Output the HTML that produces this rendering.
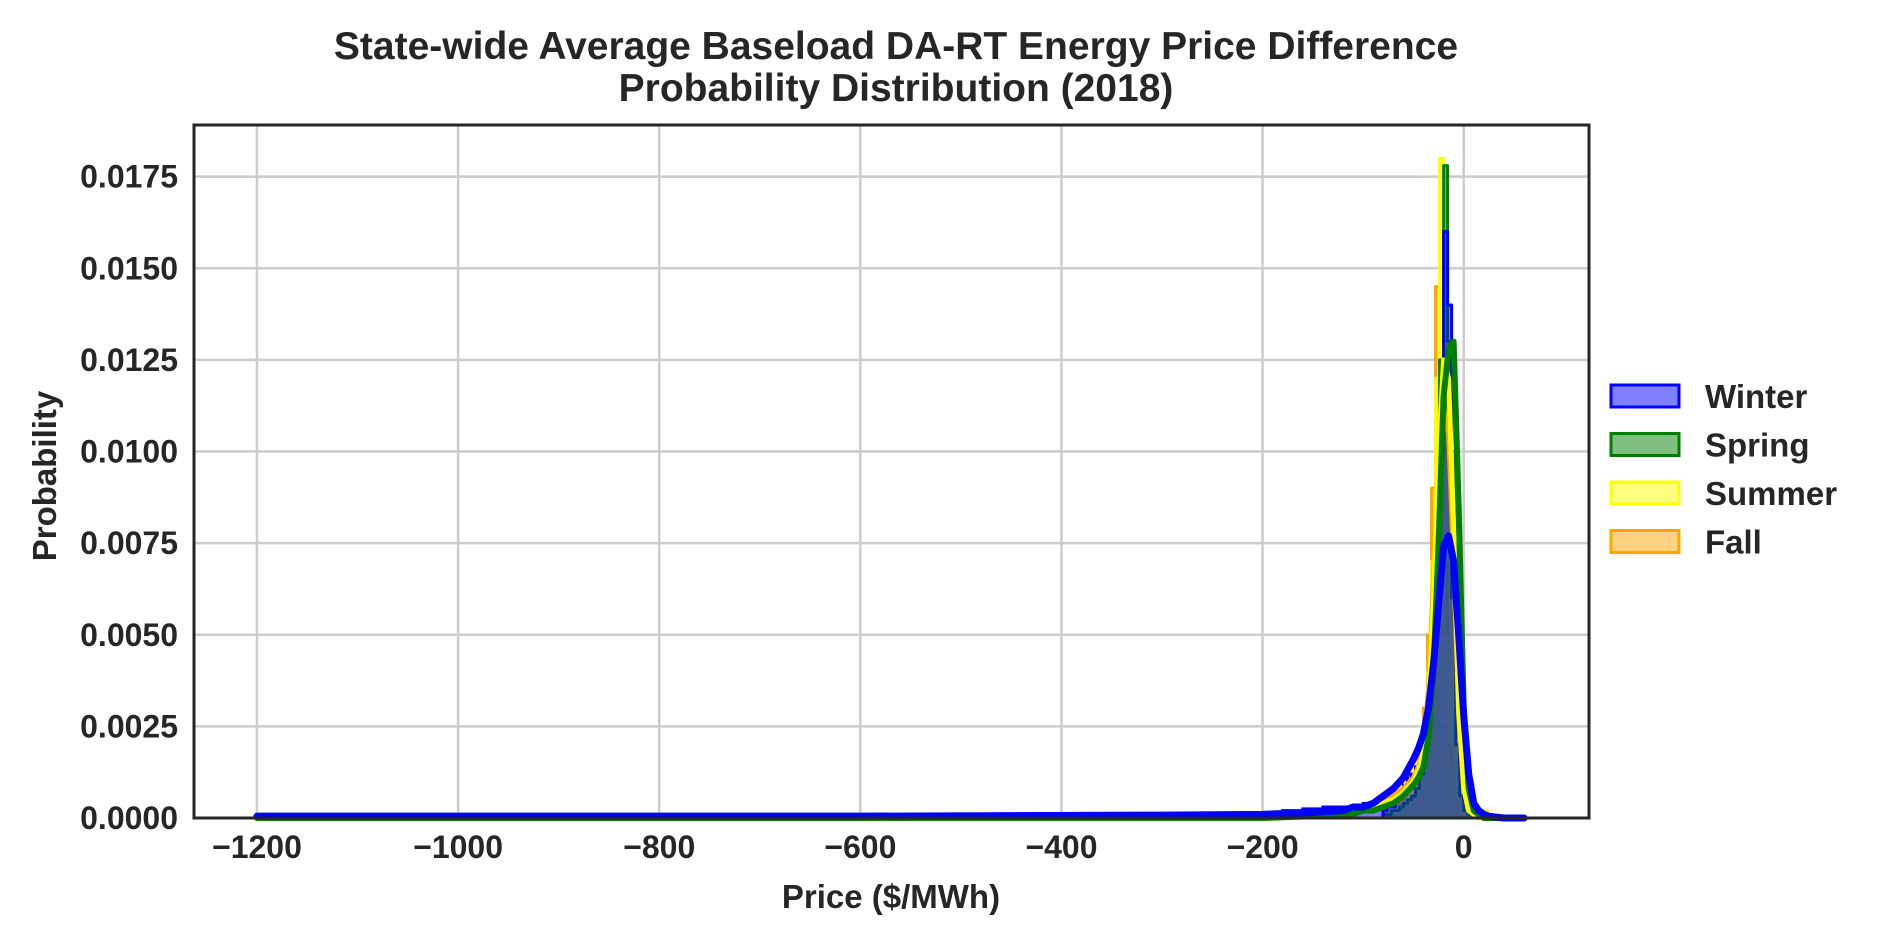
<!DOCTYPE html>
<html><head><meta charset="utf-8">
<style>
body{margin:0;background:#fff;}
svg{display:block;font-family:"Liberation Sans",Arial,sans-serif;font-weight:bold;fill:#262626;}
</style></head>
<body>
<svg id="chart" width="1881" height="944" viewBox="0 0 1881 944" xmlns="http://www.w3.org/2000/svg">
<text x="896" y="59" font-size="39" text-anchor="middle" fill="#262626">State-wide Average Baseload DA-RT Energy Price Difference</text>
<text x="896" y="101" font-size="39" text-anchor="middle" fill="#262626">Probability Distribution (2018)</text>
<g id="grid"></g>
<g id="hists"></g>
<g id="kdes"></g>
<rect x="194" y="125" width="1395" height="693" fill="none" stroke="#262626" stroke-width="3"/>
<g id="ticks"></g>
<text x="891" y="908" font-size="33" text-anchor="middle">Price ($/MWh)</text>
<text x="0" y="0" font-size="33" text-anchor="middle" transform="translate(56,476) rotate(-90)">Probability</text>
<g id="legend"></g>
</svg>
<script>
const seasons=["Winter","Spring","Summer","Fall"];
const colors=["#0000ff","#008000","#ffff00","#ffa500"];
const xTicks=[-1200,-1000,-800,-600,-400,-200,0];
const yTicks=[0,0.0025,0.005,0.0075,0.01,0.0125,0.015,0.0175];
const yTickLabels=["0.0000","0.0025","0.0050","0.0075","0.0100","0.0125","0.0150","0.0175"];
// histogram bins (width 4, start -80)
const binStart=-80, binWidth=4;
const histWinter=[0.0002,0.0003,0.0003,0.0005,0.0007,0.0009,0.0012,0.0010,0.0014,0.0018,0.0025,0.0035,0.005,0.007,0.010,0.016,0.014,0.010,0.004,0.0015,0.0005,0.0002,0.0001,0,0,0,0,0,0,0];
const histSpring=[0.0001,0.0001,0.0002,0.0002,0.0003,0.0004,0.0005,0.0006,0.0008,0.0012,0.002,0.003,0.005,0.008,0.0125,0.0178,0.013,0.006,0.002,0.0006,0.0002,0.0001,0,0,0,0,0,0,0,0];
const histSummer=[0.0001,0.0001,0.0002,0.0002,0.0003,0.0004,0.0006,0.0008,0.0011,0.0015,0.0025,0.004,0.007,0.012,0.018,0.013,0.007,0.002,0.0005,0.0002,0.0001,0,0,0,0,0.0002,0.0001,0,0,0];
const histFall=[0.0001,0.0002,0.0002,0.0003,0.0004,0.0005,0.0006,0.0009,0.0012,0.0018,0.003,0.005,0.009,0.0145,0.012,0.010,0.005,0.0015,0.0005,0.0002,0.0001,0,0,0,0,0.0001,0.0001,0,0,0];
// winter long tail (width 20, start -1200, ends at -80)
const tailStart=-1200, tailWidth=20;
const tailWinter=[0.00008,0.00005,0.00005,0.00005,0.00005,0.00005,0.00005,0.00005,0.00005,0.00005,0.00005,0.00005,0.00005,0.00005,0.00005,0.00005,0.00005,0.00005,0.00005,0.00005,0.00005,0.00005,0.00005,0.00005,0.00005,0.00005,0.00005,0.00005,0.00005,0.00005,0.00005,0.00005,0.00005,0.00005,0.00005,0.00005,0.00005,0.00005,0.00005,0.00005,0.00005,0.00005,0.00008,0.00005,0.00005,0.00008,0.00008,0.0001,0.0001,0.00012,0.00015,0.0002,0.00025,0.0003,0.0003,0.0004];
// KDE
const kdeX=[-1200,-600,-300,-200,-150,-120,-110,-100,-90,-80,-70,-60,-50,-45,-40,-35,-30,-25,-20,-15,-10,-5,0,5,10,15,20,25,30,40,60];
const kdeWinter=[0.00005,0.00005,0.00008,0.0001,0.00015,0.0002,0.0003,0.0003,0.0004,0.0006,0.0008,0.0011,0.0016,0.0019,0.0023,0.0030,0.0042,0.0058,0.0074,0.0077,0.0070,0.0050,0.0028,0.0012,0.0004,0.0002,0.0001,0.00005,0.00003,0,0];
const kdeSpring=[0,0,0,0,0.00005,0.0001,0.0001,0.0002,0.0002,0.0003,0.0004,0.0006,0.0009,0.0011,0.0014,0.0022,0.0040,0.0075,0.0115,0.0128,0.0130,0.0085,0.0030,0.0008,0.0002,0.0001,0,0,0,0,0];
const kdeSummer=[0,0,0,0,0.00005,0.0001,0.0001,0.0002,0.0003,0.0004,0.0005,0.0007,0.0010,0.0013,0.0018,0.0032,0.0060,0.0100,0.0125,0.0120,0.0080,0.0030,0.0008,0.0002,0.0001,0,0,0,0,0,0];
const kdeFall=[0,0,0,0,0.00005,0.0001,0.0001,0.0002,0.0003,0.0004,0.0006,0.0008,0.0011,0.0014,0.0020,0.0035,0.0065,0.0100,0.0112,0.0105,0.0070,0.0028,0.0008,0.0002,0.0001,0,0,0,0,0,0];

const X0=194,X1=1589,Y0=818,Y1=125, xmin=-1262.6,xmax=124.6, ymin=0,ymax=0.01891;
const sx=v=>X0+(v-xmin)/(xmax-xmin)*(X1-X0);
const sy=v=>Y0-(v-ymin)/(ymax-ymin)*(Y0-Y1);
const NS="http://www.w3.org/2000/svg";
function mk(tag,parent,attrs){const e=document.createElementNS(NS,tag);for(const k in attrs)e.setAttribute(k,attrs[k]);parent.appendChild(e);return e;}
const grid=document.getElementById('grid'),ticks=document.getElementById('ticks');
xTicks.forEach(t=>{
  const l=mk('line',grid,{x1:sx(t),x2:sx(t),y1:Y1,y2:Y0,stroke:'#cccccc','stroke-width':2.5});
  
  
  const tx=mk('text',ticks,{x:sx(t),y:858,'font-size':32,'text-anchor':'middle'});
  tx.textContent=t<0?'\u2212'+Math.abs(t):String(t);
  
  
});
yTicks.forEach((t,i)=>{
  const l=mk('line',grid,{x1:X0,x2:X1,y1:sy(t),y2:sy(t),stroke:'#cccccc','stroke-width':2.5});
  
  
  const tx=mk('text',ticks,{x:178,y:sy(t)+11,'font-size':32,'text-anchor':'end'});
  tx.textContent=yTickLabels[i];
  
  
});
function stepPath(start,w,vals){
  let d='M'+sx(start)+','+sy(0);
  vals.forEach((v,i)=>{d+=' L'+sx(start+i*w)+','+sy(v)+' L'+sx(start+(i+1)*w)+','+sy(v);});
  d+=' L'+sx(start+vals.length*w)+','+sy(0);
  return d;
}
const hists=document.getElementById('hists');
const histData=[histWinter,histSpring,histSummer,histFall];
[3,2,1,0].forEach(i=>{
  const h=histData[i];
  const d=stepPath(binStart,binWidth,h);
  const f=mk('path',hists,{d:d+' Z',fill:colors[i],'fill-opacity':0.5,stroke:colors[i],'stroke-width':3,'stroke-linejoin':'round'});
  
  
  if(i===0){
    const t=mk('path',hists,{d:stepPath(tailStart,tailWidth,tailWinter),fill:colors[0],'fill-opacity':0.5,stroke:colors[0],'stroke-width':3});
    
    
  }
});
const kdes=document.getElementById('kdes');
const kdeData=[kdeWinter,kdeSpring,kdeSummer,kdeFall];
const widths=[7,6,5,5];
[3,2,1,0].forEach(i=>{
  const d=kdeX.map((x,j)=>(j?'L':'M')+sx(x)+','+sy(kdeData[i][j])).join(' ');
  const p=mk('path',kdes,{d:d,fill:'none',stroke:colors[i],'stroke-width':widths[i],'stroke-linejoin':'round','stroke-linecap':'round'});
  
  
});
const legend=document.getElementById('legend');
seasons.forEach((s,i)=>{
  const y=396+i*48.5;
  const r=mk('rect',legend,{x:1611,y:y-11,width:68,height:22,fill:colors[i],'fill-opacity':0.5,stroke:colors[i],'stroke-width':3});
  
  
  const t=mk('text',legend,{x:1705,y:y+12,'font-size':33});
  t.textContent=s;
  
  
});
</script>
</body></html>
